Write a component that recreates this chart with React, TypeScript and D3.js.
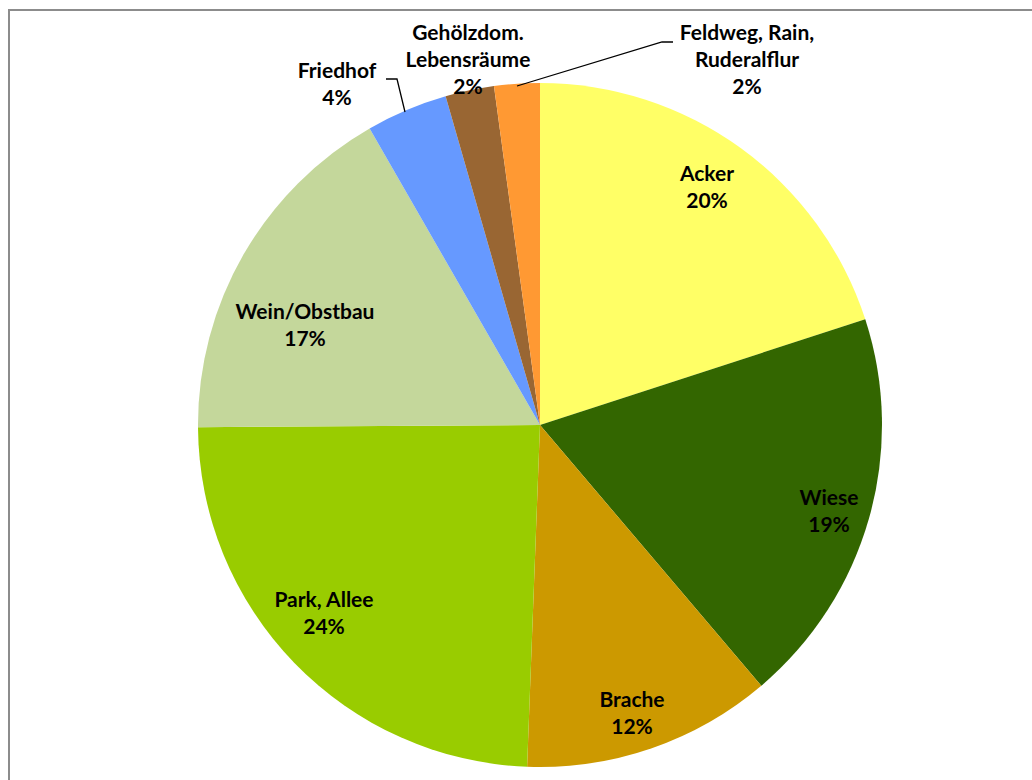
import React from "react";
import * as d3 from "d3";

const categories = [
  "Acker",
  "Wiese",
  "Brache",
  "Park, Allee",
  "Wein/Obstbau",
  "Friedhof",
  "Gehölzdom. Lebensräume",
  "Feldweg, Rain, Ruderalflur",
];
const values = [20.0, 18.8, 11.8, 24.3, 16.8, 3.85, 2.3, 2.15];
const colors = ["#FFFF66", "#336600", "#CC9900", "#99CC00", "#C4D79B", "#6699FF", "#996633", "#FF9933"];
const labelLines = [
  ["Acker"],
  ["Wiese"],
  ["Brache"],
  ["Park, Allee"],
  ["Wein/Obstbau"],
  ["Friedhof"],
  ["Gehölzdom.", "Lebensräume"],
  ["Feldweg, Rain,", "Ruderalflur"],
];

// layout (label anchor: centre x, first baseline y)
const W = 1032;
const H = 780;
const CX = 540;
const CY = 425;
const R = 342;
const LINE = 27;
const labelAnchors: [number, number][] = [
  [707, 181],
  [829, 505],
  [632, 707],
  [324, 607],
  [305, 319],
  [337, 78],
  [468, 40],
  [747, 40],
];
// leader lines for outside labels (index -> polyline points)
const leaders: Record<number, [number, number][]> = {
  5: [[405, 112], [397, 79], [386, 79]],
  7: [[517, 86], [662, 42], [673, 42]],
};

export default function App() {
  const total = d3.sum(values);
  const pie = d3.pie<number>().sort(null).value((d) => d);
  const arcs = pie(values);
  const arc = d3.arc<d3.PieArcDatum<number>>().innerRadius(0).outerRadius(R);
  const line = d3.line();

  return (
    <svg
      width={W}
      height={H}
      style={{ position: "absolute", left: 0, top: 0, background: "#fff" }}
    >
      <rect x={0} y={0} width={W} height={H} fill="#fff" />
      <rect x={9} y={10} width={W + 20} height={H + 20} fill="none" stroke="#8c8c8c" strokeWidth={2} />
      <g transform={`translate(${CX},${CY})`}>
        {arcs.map((a, i) => (
          <path key={categories[i]} d={arc(a) || ""} fill={colors[i]} />
        ))}
      </g>
      {Object.entries(leaders).map(([k, pts]) => (
        <path key={k} d={line(pts) || ""} fill="none" stroke="#000" strokeWidth={1.3} />
      ))}
      <g
        fontFamily="Lato, 'Open Sans', sans-serif"
        fontWeight="bold"
        fontSize={21}
        fill="#000"
        textAnchor="middle"
      >
        {arcs.map((a, i) => {
          const [x, y] = labelAnchors[i];
          const pct = Math.round((values[i] / total) * 100) + "%";
          const lines = [...labelLines[i], pct];
          return (
            <text key={categories[i]} x={x} y={y}>
              {lines.map((t, j) => (
                <tspan key={j} x={x} y={y + j * LINE}>
                  {t}
                </tspan>
              ))}
            </text>
          );
        })}
      </g>
    </svg>
  );
}
